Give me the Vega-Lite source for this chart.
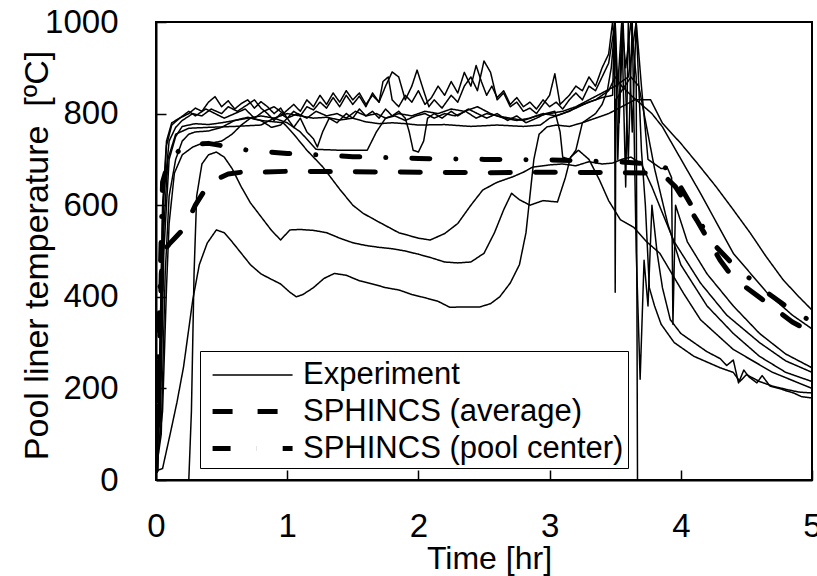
{
  "$schema": "https://vega.github.io/schema/vega-lite/v6.json",
  "autosize": "none",
  "width": 656,
  "height": 458,
  "padding": {"left": 156, "top": 22, "right": 5, "bottom": 96},
  "background": "white",
  "config": {
    "font": "Liberation Sans",
    "view": {"stroke": "black", "strokeWidth": 2},
    "axis": {"grid": false, "domainColor": "black", "domainWidth": 2, "tickColor": "black", "tickWidth": 1.5, "labelColor": "black", "titleColor": "black", "labelFont": "Liberation Sans", "titleFont": "Liberation Sans", "titleFontWeight": "normal"}
  },
  "data": {"values": [
    {"r":"e1","s":"Experiment","x":0,"y":20},{"r":"e1","s":"Experiment","x":0.05,"y":25},{"r":"e1","s":"Experiment","x":0.11,"y":103},{"r":"e1","s":"Experiment","x":0.16,"y":170},{"r":"e1","s":"Experiment","x":0.21,"y":247},{"r":"e1","s":"Experiment","x":0.28,"y":393},{"r":"e1","s":"Experiment","x":0.33,"y":470},{"r":"e1","s":"Experiment","x":0.39,"y":517},{"r":"e1","s":"Experiment","x":0.46,"y":546},{"r":"e1","s":"Experiment","x":0.52,"y":540},{"r":"e1","s":"Experiment","x":0.58,"y":520},{"r":"e1","s":"Experiment","x":0.65,"y":495},{"r":"e1","s":"Experiment","x":0.72,"y":470},{"r":"e1","s":"Experiment","x":0.8,"y":450},{"r":"e1","s":"Experiment","x":0.88,"y":438},{"r":"e1","s":"Experiment","x":0.95,"y":428},{"r":"e1","s":"Experiment","x":1.02,"y":410},{"r":"e1","s":"Experiment","x":1.07,"y":400},{"r":"e1","s":"Experiment","x":1.12,"y":405},{"r":"e1","s":"Experiment","x":1.2,"y":420},{"r":"e1","s":"Experiment","x":1.28,"y":440},{"r":"e1","s":"Experiment","x":1.36,"y":451},{"r":"e1","s":"Experiment","x":1.45,"y":447},{"r":"e1","s":"Experiment","x":1.55,"y":435},{"r":"e1","s":"Experiment","x":1.65,"y":428},{"r":"e1","s":"Experiment","x":1.75,"y":420},{"r":"e1","s":"Experiment","x":1.85,"y":415},{"r":"e1","s":"Experiment","x":1.95,"y":405},{"r":"e1","s":"Experiment","x":2.05,"y":398},{"r":"e1","s":"Experiment","x":2.15,"y":390},{"r":"e1","s":"Experiment","x":2.24,"y":377},{"r":"e1","s":"Experiment","x":2.35,"y":378},{"r":"e1","s":"Experiment","x":2.47,"y":378},{"r":"e1","s":"Experiment","x":2.55,"y":385},{"r":"e1","s":"Experiment","x":2.62,"y":400},{"r":"e1","s":"Experiment","x":2.7,"y":430},{"r":"e1","s":"Experiment","x":2.77,"y":470},{"r":"e1","s":"Experiment","x":2.82,"y":540},{"r":"e1","s":"Experiment","x":2.85,"y":620},{"r":"e1","s":"Experiment","x":2.88,"y":700},{"r":"e1","s":"Experiment","x":2.92,"y":755},{"r":"e1","s":"Experiment","x":2.98,"y":771},{"r":"e1","s":"Experiment","x":3.05,"y":775},{"r":"e1","s":"Experiment","x":3.15,"y":772},{"r":"e1","s":"Experiment","x":3.25,"y":780},{"r":"e1","s":"Experiment","x":3.35,"y":790},{"r":"e1","s":"Experiment","x":3.45,"y":800},{"r":"e1","s":"Experiment","x":3.55,"y":815},{"r":"e1","s":"Experiment","x":3.65,"y":830},{"r":"e1","s":"Experiment","x":3.77,"y":830},{"r":"e1","s":"Experiment","x":3.86,"y":779},{"r":"e1","s":"Experiment","x":4.0,"y":735},{"r":"e1","s":"Experiment","x":4.13,"y":690},{"r":"e1","s":"Experiment","x":4.27,"y":640},{"r":"e1","s":"Experiment","x":4.4,"y":590},{"r":"e1","s":"Experiment","x":4.53,"y":539},{"r":"e1","s":"Experiment","x":4.65,"y":488},{"r":"e1","s":"Experiment","x":4.78,"y":437},{"r":"e1","s":"Experiment","x":4.9,"y":400},{"r":"e1","s":"Experiment","x":5.0,"y":371},

    {"r":"e2","s":"Experiment","x":0,"y":0},{"r":"e2","s":"Experiment","x":0.25,"y":0},{"r":"e2","s":"Experiment","x":0.27,"y":150},{"r":"e2","s":"Experiment","x":0.29,"y":450},{"r":"e2","s":"Experiment","x":0.31,"y":620},{"r":"e2","s":"Experiment","x":0.35,"y":690},{"r":"e2","s":"Experiment","x":0.4,"y":710},{"r":"e2","s":"Experiment","x":0.46,"y":716},{"r":"e2","s":"Experiment","x":0.52,"y":705},{"r":"e2","s":"Experiment","x":0.58,"y":680},{"r":"e2","s":"Experiment","x":0.65,"y":640},{"r":"e2","s":"Experiment","x":0.72,"y":605},{"r":"e2","s":"Experiment","x":0.8,"y":575},{"r":"e2","s":"Experiment","x":0.88,"y":545},{"r":"e2","s":"Experiment","x":0.95,"y":524},{"r":"e2","s":"Experiment","x":1.02,"y":546},{"r":"e2","s":"Experiment","x":1.1,"y":547},{"r":"e2","s":"Experiment","x":1.2,"y":545},{"r":"e2","s":"Experiment","x":1.3,"y":540},{"r":"e2","s":"Experiment","x":1.4,"y":528},{"r":"e2","s":"Experiment","x":1.5,"y":518},{"r":"e2","s":"Experiment","x":1.6,"y":512},{"r":"e2","s":"Experiment","x":1.7,"y":508},{"r":"e2","s":"Experiment","x":1.8,"y":505},{"r":"e2","s":"Experiment","x":1.9,"y":500},{"r":"e2","s":"Experiment","x":2.0,"y":493},{"r":"e2","s":"Experiment","x":2.1,"y":485},{"r":"e2","s":"Experiment","x":2.2,"y":476},{"r":"e2","s":"Experiment","x":2.3,"y":474},{"r":"e2","s":"Experiment","x":2.4,"y":476},{"r":"e2","s":"Experiment","x":2.5,"y":495},{"r":"e2","s":"Experiment","x":2.58,"y":540},{"r":"e2","s":"Experiment","x":2.65,"y":590},{"r":"e2","s":"Experiment","x":2.71,"y":626},{"r":"e2","s":"Experiment","x":2.77,"y":612},{"r":"e2","s":"Experiment","x":2.85,"y":600},{"r":"e2","s":"Experiment","x":2.95,"y":610},{"r":"e2","s":"Experiment","x":3.06,"y":607},{"r":"e2","s":"Experiment","x":3.12,"y":660},{"r":"e2","s":"Experiment","x":3.16,"y":705},{"r":"e2","s":"Experiment","x":3.22,"y":720},{"r":"e2","s":"Experiment","x":3.3,"y":700},{"r":"e2","s":"Experiment","x":3.38,"y":655},{"r":"e2","s":"Experiment","x":3.45,"y":610},{"r":"e2","s":"Experiment","x":3.54,"y":568},{"r":"e2","s":"Experiment","x":3.64,"y":552},{"r":"e2","s":"Experiment","x":3.74,"y":520},{"r":"e2","s":"Experiment","x":3.84,"y":495},{"r":"e2","s":"Experiment","x":4.02,"y":408},{"r":"e2","s":"Experiment","x":4.15,"y":350},{"r":"e2","s":"Experiment","x":4.4,"y":285},{"r":"e2","s":"Experiment","x":4.7,"y":235},{"r":"e2","s":"Experiment","x":5.0,"y":200},

    {"r":"e3","s":"Experiment","x":0,"y":20},{"r":"e3","s":"Experiment","x":0.04,"y":100},{"r":"e3","s":"Experiment","x":0.07,"y":450},{"r":"e3","s":"Experiment","x":0.1,"y":620},{"r":"e3","s":"Experiment","x":0.15,"y":700},{"r":"e3","s":"Experiment","x":0.2,"y":740},{"r":"e3","s":"Experiment","x":0.25,"y":755},{"r":"e3","s":"Experiment","x":0.3,"y":760},{"r":"e3","s":"Experiment","x":0.4,"y":762},{"r":"e3","s":"Experiment","x":0.5,"y":770},{"r":"e3","s":"Experiment","x":0.6,"y":785},{"r":"e3","s":"Experiment","x":0.7,"y":792},{"r":"e3","s":"Experiment","x":0.8,"y":785},{"r":"e3","s":"Experiment","x":0.9,"y":782},{"r":"e3","s":"Experiment","x":0.97,"y":780},{"r":"e3","s":"Experiment","x":1.05,"y":755},{"r":"e3","s":"Experiment","x":1.15,"y":720},{"r":"e3","s":"Experiment","x":1.27,"y":684},{"r":"e3","s":"Experiment","x":1.4,"y":635},{"r":"e3","s":"Experiment","x":1.5,"y":600},{"r":"e3","s":"Experiment","x":1.58,"y":582},{"r":"e3","s":"Experiment","x":1.7,"y":563},{"r":"e3","s":"Experiment","x":1.85,"y":540},{"r":"e3","s":"Experiment","x":2.0,"y":528},{"r":"e3","s":"Experiment","x":2.09,"y":524},{"r":"e3","s":"Experiment","x":2.2,"y":538},{"r":"e3","s":"Experiment","x":2.3,"y":560},{"r":"e3","s":"Experiment","x":2.4,"y":600},{"r":"e3","s":"Experiment","x":2.49,"y":633},{"r":"e3","s":"Experiment","x":2.6,"y":650},{"r":"e3","s":"Experiment","x":2.72,"y":662},{"r":"e3","s":"Experiment","x":2.8,"y":672},{"r":"e3","s":"Experiment","x":2.87,"y":683},{"r":"e3","s":"Experiment","x":3.0,"y":688},{"r":"e3","s":"Experiment","x":3.1,"y":690},{"r":"e3","s":"Experiment","x":3.2,"y":686},{"r":"e3","s":"Experiment","x":3.3,"y":695},{"r":"e3","s":"Experiment","x":3.4,"y":690},{"r":"e3","s":"Experiment","x":3.48,"y":692},{"r":"e3","s":"Experiment","x":3.55,"y":700},{"r":"e3","s":"Experiment","x":3.62,"y":705},{"r":"e3","s":"Experiment","x":3.7,"y":690},{"r":"e3","s":"Experiment","x":3.78,"y":640},{"r":"e3","s":"Experiment","x":3.85,"y":590},{"r":"e3","s":"Experiment","x":3.95,"y":520},{"r":"e3","s":"Experiment","x":4.15,"y":430},{"r":"e3","s":"Experiment","x":4.35,"y":360},{"r":"e3","s":"Experiment","x":4.6,"y":300},{"r":"e3","s":"Experiment","x":4.8,"y":260},{"r":"e3","s":"Experiment","x":5.0,"y":235},

    {"r":"e4","s":"Experiment","x":0,"y":20},{"r":"e4","s":"Experiment","x":0.03,"y":100},{"r":"e4","s":"Experiment","x":0.06,"y":500},{"r":"e4","s":"Experiment","x":0.1,"y":700},{"r":"e4","s":"Experiment","x":0.15,"y":750},{"r":"e4","s":"Experiment","x":0.2,"y":772},{"r":"e4","s":"Experiment","x":0.3,"y":778},{"r":"e4","s":"Experiment","x":0.4,"y":776},{"r":"e4","s":"Experiment","x":0.5,"y":780},{"r":"e4","s":"Experiment","x":0.6,"y":785},{"r":"e4","s":"Experiment","x":0.7,"y":790},{"r":"e4","s":"Experiment","x":0.8,"y":795},{"r":"e4","s":"Experiment","x":0.9,"y":790},{"r":"e4","s":"Experiment","x":1.0,"y":780},{"r":"e4","s":"Experiment","x":1.1,"y":760},{"r":"e4","s":"Experiment","x":1.22,"y":722},{"r":"e4","s":"Experiment","x":1.4,"y":720},{"r":"e4","s":"Experiment","x":1.61,"y":720},{"r":"e4","s":"Experiment","x":1.68,"y":760},{"r":"e4","s":"Experiment","x":1.75,"y":790},{"r":"e4","s":"Experiment","x":1.85,"y":800},{"r":"e4","s":"Experiment","x":1.95,"y":795},{"r":"e4","s":"Experiment","x":2.05,"y":805},{"r":"e4","s":"Experiment","x":2.15,"y":800},{"r":"e4","s":"Experiment","x":2.25,"y":810},{"r":"e4","s":"Experiment","x":2.35,"y":805},{"r":"e4","s":"Experiment","x":2.45,"y":815},{"r":"e4","s":"Experiment","x":2.55,"y":800},{"r":"e4","s":"Experiment","x":2.65,"y":790},{"r":"e4","s":"Experiment","x":2.75,"y":785},{"r":"e4","s":"Experiment","x":2.85,"y":790},{"r":"e4","s":"Experiment","x":2.95,"y":800},{"r":"e4","s":"Experiment","x":3.05,"y":795},{"r":"e4","s":"Experiment","x":3.15,"y":805},{"r":"e4","s":"Experiment","x":3.25,"y":820},{"r":"e4","s":"Experiment","x":3.35,"y":830},{"r":"e4","s":"Experiment","x":3.45,"y":850},{"r":"e4","s":"Experiment","x":3.5,"y":880},{"r":"e4","s":"Experiment","x":3.55,"y":860},{"r":"e4","s":"Experiment","x":3.62,"y":840},{"r":"e4","s":"Experiment","x":3.7,"y":820},{"r":"e4","s":"Experiment","x":3.78,"y":800},{"r":"e4","s":"Experiment","x":3.86,"y":771},{"r":"e4","s":"Experiment","x":4.15,"y":626},{"r":"e4","s":"Experiment","x":4.4,"y":495},{"r":"e4","s":"Experiment","x":4.66,"y":408},{"r":"e4","s":"Experiment","x":4.85,"y":360},{"r":"e4","s":"Experiment","x":5.0,"y":330},

    {"r":"e5","s":"Experiment","x":0,"y":20},{"r":"e5","s":"Experiment","x":0.03,"y":150},{"r":"e5","s":"Experiment","x":0.06,"y":550},{"r":"e5","s":"Experiment","x":0.09,"y":700},{"r":"e5","s":"Experiment","x":0.15,"y":755},{"r":"e5","s":"Experiment","x":0.25,"y":768},{"r":"e5","s":"Experiment","x":0.4,"y":770},{"r":"e5","s":"Experiment","x":0.6,"y":772},{"r":"e5","s":"Experiment","x":0.8,"y":775},{"r":"e5","s":"Experiment","x":0.9,"y":790},{"r":"e5","s":"Experiment","x":1.0,"y":800},{"r":"e5","s":"Experiment","x":1.1,"y":795},{"r":"e5","s":"Experiment","x":1.2,"y":790},{"r":"e5","s":"Experiment","x":1.3,"y":792},{"r":"e5","s":"Experiment","x":1.4,"y":786},{"r":"e5","s":"Experiment","x":1.5,"y":790},{"r":"e5","s":"Experiment","x":1.6,"y":782},{"r":"e5","s":"Experiment","x":1.7,"y":778},{"r":"e5","s":"Experiment","x":1.8,"y":780},{"r":"e5","s":"Experiment","x":1.9,"y":778},{"r":"e5","s":"Experiment","x":2.0,"y":775},{"r":"e5","s":"Experiment","x":2.2,"y":776},{"r":"e5","s":"Experiment","x":2.4,"y":772},{"r":"e5","s":"Experiment","x":2.6,"y":775},{"r":"e5","s":"Experiment","x":2.8,"y":772},{"r":"e5","s":"Experiment","x":2.93,"y":775},{"r":"e5","s":"Experiment","x":3.0,"y":790},{"r":"e5","s":"Experiment","x":3.1,"y":800},{"r":"e5","s":"Experiment","x":3.2,"y":812},{"r":"e5","s":"Experiment","x":3.3,"y":825},{"r":"e5","s":"Experiment","x":3.4,"y":835},{"r":"e5","s":"Experiment","x":3.48,"y":840},{"r":"e5","s":"Experiment","x":3.495,"y":1000},{"r":"e5","s":"Experiment","x":3.5,"y":410},{"r":"e5","s":"Experiment","x":3.505,"y":830},{"r":"e5","s":"Experiment","x":3.55,"y":850},{"r":"e5","s":"Experiment","x":3.62,"y":880},{"r":"e5","s":"Experiment","x":3.68,"y":860},{"r":"e5","s":"Experiment","x":3.72,"y":800},{"r":"e5","s":"Experiment","x":3.76,"y":740},{"r":"e5","s":"Experiment","x":3.8,"y":680},{"r":"e5","s":"Experiment","x":3.9,"y":560},{"r":"e5","s":"Experiment","x":4.0,"y":470},{"r":"e5","s":"Experiment","x":4.2,"y":380},{"r":"e5","s":"Experiment","x":4.4,"y":320},{"r":"e5","s":"Experiment","x":4.6,"y":270},{"r":"e5","s":"Experiment","x":4.8,"y":235},{"r":"e5","s":"Experiment","x":5.0,"y":215},

    {"r":"e6","s":"Experiment","x":0,"y":20},{"r":"e6","s":"Experiment","x":0.02,"y":120},{"r":"e6","s":"Experiment","x":0.05,"y":600},{"r":"e6","s":"Experiment","x":0.08,"y":740},{"r":"e6","s":"Experiment","x":0.12,"y":780},{"r":"e6","s":"Experiment","x":0.18,"y":790},{"r":"e6","s":"Experiment","x":0.25,"y":800},{"r":"e6","s":"Experiment","x":0.3,"y":812},{"r":"e6","s":"Experiment","x":0.35,"y":805},{"r":"e6","s":"Experiment","x":0.4,"y":825},{"r":"e6","s":"Experiment","x":0.45,"y":837},{"r":"e6","s":"Experiment","x":0.5,"y":815},{"r":"e6","s":"Experiment","x":0.55,"y":828},{"r":"e6","s":"Experiment","x":0.6,"y":810},{"r":"e6","s":"Experiment","x":0.65,"y":822},{"r":"e6","s":"Experiment","x":0.7,"y":830},{"r":"e6","s":"Experiment","x":0.75,"y":812},{"r":"e6","s":"Experiment","x":0.8,"y":826},{"r":"e6","s":"Experiment","x":0.85,"y":815},{"r":"e6","s":"Experiment","x":0.9,"y":800},{"r":"e6","s":"Experiment","x":0.95,"y":812},{"r":"e6","s":"Experiment","x":1.0,"y":790},{"r":"e6","s":"Experiment","x":1.05,"y":805},{"r":"e6","s":"Experiment","x":1.1,"y":795},{"r":"e6","s":"Experiment","x":1.15,"y":815},{"r":"e6","s":"Experiment","x":1.2,"y":808},{"r":"e6","s":"Experiment","x":1.25,"y":825},{"r":"e6","s":"Experiment","x":1.3,"y":812},{"r":"e6","s":"Experiment","x":1.35,"y":835},{"r":"e6","s":"Experiment","x":1.4,"y":815},{"r":"e6","s":"Experiment","x":1.45,"y":840},{"r":"e6","s":"Experiment","x":1.5,"y":820},{"r":"e6","s":"Experiment","x":1.55,"y":838},{"r":"e6","s":"Experiment","x":1.6,"y":815},{"r":"e6","s":"Experiment","x":1.65,"y":845},{"r":"e6","s":"Experiment","x":1.7,"y":825},{"r":"e6","s":"Experiment","x":1.75,"y":860},{"r":"e6","s":"Experiment","x":1.8,"y":891},{"r":"e6","s":"Experiment","x":1.85,"y":880},{"r":"e6","s":"Experiment","x":1.9,"y":830},{"r":"e6","s":"Experiment","x":1.95,"y":860},{"r":"e6","s":"Experiment","x":1.99,"y":895},{"r":"e6","s":"Experiment","x":2.04,"y":850},{"r":"e6","s":"Experiment","x":2.08,"y":815},{"r":"e6","s":"Experiment","x":2.12,"y":830},{"r":"e6","s":"Experiment","x":2.18,"y":812},{"r":"e6","s":"Experiment","x":2.25,"y":840},{"r":"e6","s":"Experiment","x":2.3,"y":825},{"r":"e6","s":"Experiment","x":2.35,"y":860},{"r":"e6","s":"Experiment","x":2.4,"y":880},{"r":"e6","s":"Experiment","x":2.45,"y":850},{"r":"e6","s":"Experiment","x":2.5,"y":915},{"r":"e6","s":"Experiment","x":2.55,"y":890},{"r":"e6","s":"Experiment","x":2.6,"y":830},{"r":"e6","s":"Experiment","x":2.65,"y":845},{"r":"e6","s":"Experiment","x":2.7,"y":815},{"r":"e6","s":"Experiment","x":2.75,"y":825},{"r":"e6","s":"Experiment","x":2.8,"y":805},{"r":"e6","s":"Experiment","x":2.85,"y":812},{"r":"e6","s":"Experiment","x":2.9,"y":800},{"r":"e6","s":"Experiment","x":2.95,"y":820},{"r":"e6","s":"Experiment","x":3.0,"y":840},{"r":"e6","s":"Experiment","x":3.04,"y":887},{"r":"e6","s":"Experiment","x":3.08,"y":820},{"r":"e6","s":"Experiment","x":3.15,"y":840},{"r":"e6","s":"Experiment","x":3.2,"y":860},{"r":"e6","s":"Experiment","x":3.25,"y":850},{"r":"e6","s":"Experiment","x":3.3,"y":880},{"r":"e6","s":"Experiment","x":3.35,"y":860},{"r":"e6","s":"Experiment","x":3.4,"y":900},{"r":"e6","s":"Experiment","x":3.45,"y":930},{"r":"e6","s":"Experiment","x":3.48,"y":1000},{"r":"e6","s":"Experiment","x":3.52,"y":860},{"r":"e6","s":"Experiment","x":3.55,"y":1000},{"r":"e6","s":"Experiment","x":3.58,"y":900},{"r":"e6","s":"Experiment","x":3.62,"y":1000},{"r":"e6","s":"Experiment","x":3.66,"y":880},{"r":"e6","s":"Experiment","x":3.67,"y":0},{"r":"e6","s":"Experiment","x":5.0,"y":0},

    {"r":"e7","s":"Experiment","x":0,"y":20},{"r":"e7","s":"Experiment","x":0.03,"y":200},{"r":"e7","s":"Experiment","x":0.06,"y":620},{"r":"e7","s":"Experiment","x":0.1,"y":740},{"r":"e7","s":"Experiment","x":0.15,"y":770},{"r":"e7","s":"Experiment","x":0.2,"y":785},{"r":"e7","s":"Experiment","x":0.28,"y":800},{"r":"e7","s":"Experiment","x":0.35,"y":795},{"r":"e7","s":"Experiment","x":0.42,"y":810},{"r":"e7","s":"Experiment","x":0.5,"y":800},{"r":"e7","s":"Experiment","x":0.55,"y":815},{"r":"e7","s":"Experiment","x":0.62,"y":805},{"r":"e7","s":"Experiment","x":0.7,"y":820},{"r":"e7","s":"Experiment","x":0.75,"y":830},{"r":"e7","s":"Experiment","x":0.8,"y":812},{"r":"e7","s":"Experiment","x":0.85,"y":800},{"r":"e7","s":"Experiment","x":0.9,"y":785},{"r":"e7","s":"Experiment","x":0.95,"y":800},{"r":"e7","s":"Experiment","x":1.0,"y":790},{"r":"e7","s":"Experiment","x":1.05,"y":770},{"r":"e7","s":"Experiment","x":1.1,"y":790},{"r":"e7","s":"Experiment","x":1.15,"y":760},{"r":"e7","s":"Experiment","x":1.2,"y":745},{"r":"e7","s":"Experiment","x":1.23,"y":727},{"r":"e7","s":"Experiment","x":1.27,"y":760},{"r":"e7","s":"Experiment","x":1.32,"y":790},{"r":"e7","s":"Experiment","x":1.38,"y":780},{"r":"e7","s":"Experiment","x":1.45,"y":800},{"r":"e7","s":"Experiment","x":1.5,"y":790},{"r":"e7","s":"Experiment","x":1.55,"y":810},{"r":"e7","s":"Experiment","x":1.6,"y":795},{"r":"e7","s":"Experiment","x":1.65,"y":805},{"r":"e7","s":"Experiment","x":1.7,"y":790},{"r":"e7","s":"Experiment","x":1.75,"y":810},{"r":"e7","s":"Experiment","x":1.8,"y":795},{"r":"e7","s":"Experiment","x":1.85,"y":805},{"r":"e7","s":"Experiment","x":1.9,"y":790},{"r":"e7","s":"Experiment","x":1.93,"y":760},{"r":"e7","s":"Experiment","x":1.96,"y":720},{"r":"e7","s":"Experiment","x":2.0,"y":716},{"r":"e7","s":"Experiment","x":2.04,"y":740},{"r":"e7","s":"Experiment","x":2.07,"y":790},{"r":"e7","s":"Experiment","x":2.12,"y":800},{"r":"e7","s":"Experiment","x":2.18,"y":790},{"r":"e7","s":"Experiment","x":2.25,"y":805},{"r":"e7","s":"Experiment","x":2.3,"y":795},{"r":"e7","s":"Experiment","x":2.38,"y":810},{"r":"e7","s":"Experiment","x":2.45,"y":800},{"r":"e7","s":"Experiment","x":2.52,"y":790},{"r":"e7","s":"Experiment","x":2.6,"y":800},{"r":"e7","s":"Experiment","x":2.68,"y":785},{"r":"e7","s":"Experiment","x":2.75,"y":795},{"r":"e7","s":"Experiment","x":2.82,"y":780},{"r":"e7","s":"Experiment","x":2.9,"y":790},{"r":"e7","s":"Experiment","x":2.97,"y":800},{"r":"e7","s":"Experiment","x":3.04,"y":805},{"r":"e7","s":"Experiment","x":3.08,"y":760},{"r":"e7","s":"Experiment","x":3.1,"y":705},{"r":"e7","s":"Experiment","x":3.15,"y":700},{"r":"e7","s":"Experiment","x":3.2,"y":720},{"r":"e7","s":"Experiment","x":3.25,"y":780},{"r":"e7","s":"Experiment","x":3.3,"y":790},{"r":"e7","s":"Experiment","x":3.35,"y":800},{"r":"e7","s":"Experiment","x":3.4,"y":820},{"r":"e7","s":"Experiment","x":3.44,"y":850},{"r":"e7","s":"Experiment","x":3.47,"y":900},{"r":"e7","s":"Experiment","x":3.5,"y":1000},{"r":"e7","s":"Experiment","x":3.53,"y":780},{"r":"e7","s":"Experiment","x":3.56,"y":1000},{"r":"e7","s":"Experiment","x":3.6,"y":700},{"r":"e7","s":"Experiment","x":3.63,"y":1000},{"r":"e7","s":"Experiment","x":3.66,"y":500},{"r":"e7","s":"Experiment","x":3.69,"y":220},{"r":"e7","s":"Experiment","x":3.72,"y":480},{"r":"e7","s":"Experiment","x":3.75,"y":380},{"r":"e7","s":"Experiment","x":3.78,"y":600},{"r":"e7","s":"Experiment","x":3.82,"y":495},{"r":"e7","s":"Experiment","x":3.86,"y":420},{"r":"e7","s":"Experiment","x":3.92,"y":350},{"r":"e7","s":"Experiment","x":4.0,"y":320},{"r":"e7","s":"Experiment","x":4.1,"y":300},{"r":"e7","s":"Experiment","x":4.2,"y":280},{"r":"e7","s":"Experiment","x":4.3,"y":265},{"r":"e7","s":"Experiment","x":4.35,"y":250},{"r":"e7","s":"Experiment","x":4.4,"y":262},{"r":"e7","s":"Experiment","x":4.44,"y":212},{"r":"e7","s":"Experiment","x":4.48,"y":240},{"r":"e7","s":"Experiment","x":4.52,"y":225},{"r":"e7","s":"Experiment","x":4.58,"y":212},{"r":"e7","s":"Experiment","x":4.62,"y":228},{"r":"e7","s":"Experiment","x":4.68,"y":205},{"r":"e7","s":"Experiment","x":4.75,"y":200},{"r":"e7","s":"Experiment","x":4.8,"y":195},{"r":"e7","s":"Experiment","x":4.86,"y":190},{"r":"e7","s":"Experiment","x":4.92,"y":182},{"r":"e7","s":"Experiment","x":5.0,"y":179},

    {"r":"e8","s":"Experiment","x":0,"y":20},{"r":"e8","s":"Experiment","x":0.02,"y":150},{"r":"e8","s":"Experiment","x":0.05,"y":580},{"r":"e8","s":"Experiment","x":0.08,"y":730},{"r":"e8","s":"Experiment","x":0.12,"y":775},{"r":"e8","s":"Experiment","x":0.18,"y":790},{"r":"e8","s":"Experiment","x":0.25,"y":805},{"r":"e8","s":"Experiment","x":0.3,"y":795},{"r":"e8","s":"Experiment","x":0.38,"y":810},{"r":"e8","s":"Experiment","x":0.45,"y":800},{"r":"e8","s":"Experiment","x":0.52,"y":790},{"r":"e8","s":"Experiment","x":0.6,"y":800},{"r":"e8","s":"Experiment","x":0.68,"y":810},{"r":"e8","s":"Experiment","x":0.75,"y":790},{"r":"e8","s":"Experiment","x":0.82,"y":805},{"r":"e8","s":"Experiment","x":0.9,"y":815},{"r":"e8","s":"Experiment","x":0.97,"y":800},{"r":"e8","s":"Experiment","x":1.05,"y":820},{"r":"e8","s":"Experiment","x":1.1,"y":805},{"r":"e8","s":"Experiment","x":1.15,"y":830},{"r":"e8","s":"Experiment","x":1.2,"y":815},{"r":"e8","s":"Experiment","x":1.25,"y":840},{"r":"e8","s":"Experiment","x":1.3,"y":820},{"r":"e8","s":"Experiment","x":1.35,"y":845},{"r":"e8","s":"Experiment","x":1.4,"y":825},{"r":"e8","s":"Experiment","x":1.45,"y":850},{"r":"e8","s":"Experiment","x":1.5,"y":830},{"r":"e8","s":"Experiment","x":1.55,"y":845},{"r":"e8","s":"Experiment","x":1.6,"y":820},{"r":"e8","s":"Experiment","x":1.65,"y":840},{"r":"e8","s":"Experiment","x":1.7,"y":825},{"r":"e8","s":"Experiment","x":1.73,"y":870},{"r":"e8","s":"Experiment","x":1.77,"y":880},{"r":"e8","s":"Experiment","x":1.8,"y":830},{"r":"e8","s":"Experiment","x":1.85,"y":815},{"r":"e8","s":"Experiment","x":1.9,"y":840},{"r":"e8","s":"Experiment","x":1.95,"y":825},{"r":"e8","s":"Experiment","x":2.0,"y":850},{"r":"e8","s":"Experiment","x":2.05,"y":820},{"r":"e8","s":"Experiment","x":2.1,"y":835},{"r":"e8","s":"Experiment","x":2.15,"y":860},{"r":"e8","s":"Experiment","x":2.2,"y":840},{"r":"e8","s":"Experiment","x":2.25,"y":870},{"r":"e8","s":"Experiment","x":2.3,"y":845},{"r":"e8","s":"Experiment","x":2.35,"y":890},{"r":"e8","s":"Experiment","x":2.4,"y":860},{"r":"e8","s":"Experiment","x":2.44,"y":905},{"r":"e8","s":"Experiment","x":2.48,"y":870},{"r":"e8","s":"Experiment","x":2.52,"y":840},{"r":"e8","s":"Experiment","x":2.56,"y":860},{"r":"e8","s":"Experiment","x":2.6,"y":835},{"r":"e8","s":"Experiment","x":2.65,"y":850},{"r":"e8","s":"Experiment","x":2.7,"y":820},{"r":"e8","s":"Experiment","x":2.75,"y":835},{"r":"e8","s":"Experiment","x":2.8,"y":815},{"r":"e8","s":"Experiment","x":2.85,"y":825},{"r":"e8","s":"Experiment","x":2.9,"y":810},{"r":"e8","s":"Experiment","x":2.95,"y":830},{"r":"e8","s":"Experiment","x":3.0,"y":815},{"r":"e8","s":"Experiment","x":3.05,"y":825},{"r":"e8","s":"Experiment","x":3.1,"y":810},{"r":"e8","s":"Experiment","x":3.15,"y":830},{"r":"e8","s":"Experiment","x":3.2,"y":845},{"r":"e8","s":"Experiment","x":3.25,"y":830},{"r":"e8","s":"Experiment","x":3.3,"y":860},{"r":"e8","s":"Experiment","x":3.35,"y":850},{"r":"e8","s":"Experiment","x":3.4,"y":880},{"r":"e8","s":"Experiment","x":3.45,"y":910},{"r":"e8","s":"Experiment","x":3.5,"y":1000},{"r":"e8","s":"Experiment","x":3.52,"y":700},{"r":"e8","s":"Experiment","x":3.55,"y":1000},{"r":"e8","s":"Experiment","x":3.58,"y":640},{"r":"e8","s":"Experiment","x":3.6,"y":1000},{"r":"e8","s":"Experiment","x":3.63,"y":760},{"r":"e8","s":"Experiment","x":3.66,"y":1000},{"r":"e8","s":"Experiment","x":3.7,"y":720},{"r":"e8","s":"Experiment","x":3.73,"y":600},{"r":"e8","s":"Experiment","x":3.76,"y":420},{"r":"e8","s":"Experiment","x":3.8,"y":380},{"r":"e8","s":"Experiment","x":3.85,"y":340},{"r":"e8","s":"Experiment","x":3.95,"y":300},{"r":"e8","s":"Experiment","x":4.1,"y":270},{"r":"e8","s":"Experiment","x":4.3,"y":245},{"r":"e8","s":"Experiment","x":4.4,"y":235},{"r":"e8","s":"Experiment","x":4.45,"y":215},{"r":"e8","s":"Experiment","x":4.5,"y":230},{"r":"e8","s":"Experiment","x":4.6,"y":215},{"r":"e8","s":"Experiment","x":4.7,"y":205},{"r":"e8","s":"Experiment","x":4.8,"y":198},{"r":"e8","s":"Experiment","x":4.9,"y":192},{"r":"e8","s":"Experiment","x":5.0,"y":190},

    {"r":"e9","s":"Experiment","x":0,"y":20},{"r":"e9","s":"Experiment","x":0.05,"y":150},{"r":"e9","s":"Experiment","x":0.08,"y":420},{"r":"e9","s":"Experiment","x":0.1,"y":560},{"r":"e9","s":"Experiment","x":0.14,"y":670},{"r":"e9","s":"Experiment","x":0.2,"y":710},{"r":"e9","s":"Experiment","x":0.28,"y":727},{"r":"e9","s":"Experiment","x":0.35,"y":735},{"r":"e9","s":"Experiment","x":0.43,"y":736},{"r":"e9","s":"Experiment","x":0.5,"y":740},{"r":"e9","s":"Experiment","x":0.58,"y":755},{"r":"e9","s":"Experiment","x":0.65,"y":775},{"r":"e9","s":"Experiment","x":0.72,"y":790},{"r":"e9","s":"Experiment","x":0.8,"y":785},{"r":"e9","s":"Experiment","x":0.88,"y":770},{"r":"e9","s":"Experiment","x":0.95,"y":775},{"r":"e9","s":"Experiment","x":1.0,"y":790},{"r":"e9","s":"Experiment","x":1.08,"y":800},{"r":"e9","s":"Experiment","x":1.15,"y":790},{"r":"e9","s":"Experiment","x":1.22,"y":805},{"r":"e9","s":"Experiment","x":1.3,"y":795},{"r":"e9","s":"Experiment","x":1.38,"y":800},{"r":"e9","s":"Experiment","x":1.45,"y":790},{"r":"e9","s":"Experiment","x":1.52,"y":805},{"r":"e9","s":"Experiment","x":1.6,"y":795},{"r":"e9","s":"Experiment","x":1.68,"y":800},{"r":"e9","s":"Experiment","x":1.75,"y":790},{"r":"e9","s":"Experiment","x":1.82,"y":795},{"r":"e9","s":"Experiment","x":1.9,"y":785},{"r":"e9","s":"Experiment","x":1.98,"y":795},{"r":"e9","s":"Experiment","x":2.05,"y":800},{"r":"e9","s":"Experiment","x":2.12,"y":790},{"r":"e9","s":"Experiment","x":2.2,"y":800},{"r":"e9","s":"Experiment","x":2.28,"y":795},{"r":"e9","s":"Experiment","x":2.36,"y":805},{"r":"e9","s":"Experiment","x":2.44,"y":790},{"r":"e9","s":"Experiment","x":2.52,"y":800},{"r":"e9","s":"Experiment","x":2.6,"y":795},{"r":"e9","s":"Experiment","x":2.7,"y":790},{"r":"e9","s":"Experiment","x":2.8,"y":785},{"r":"e9","s":"Experiment","x":2.9,"y":795},{"r":"e9","s":"Experiment","x":3.0,"y":800},{"r":"e9","s":"Experiment","x":3.1,"y":805},{"r":"e9","s":"Experiment","x":3.2,"y":815},{"r":"e9","s":"Experiment","x":3.3,"y":830},{"r":"e9","s":"Experiment","x":3.4,"y":845},{"r":"e9","s":"Experiment","x":3.5,"y":860},{"r":"e9","s":"Experiment","x":3.6,"y":880},{"r":"e9","s":"Experiment","x":3.66,"y":1000},{"r":"e9","s":"Experiment","x":3.7,"y":860},{"r":"e9","s":"Experiment","x":3.75,"y":700},{"r":"e9","s":"Experiment","x":3.8,"y":690},{"r":"e9","s":"Experiment","x":3.85,"y":680},{"r":"e9","s":"Experiment","x":3.9,"y":680},{"r":"e9","s":"Experiment","x":3.93,"y":660},{"r":"e9","s":"Experiment","x":3.94,"y":340},{"r":"e9","s":"Experiment","x":3.96,"y":600},{"r":"e9","s":"Experiment","x":4.05,"y":520},{"r":"e9","s":"Experiment","x":4.2,"y":450},{"r":"e9","s":"Experiment","x":4.4,"y":380},{"r":"e9","s":"Experiment","x":4.6,"y":320},{"r":"e9","s":"Experiment","x":4.8,"y":275},{"r":"e9","s":"Experiment","x":5.0,"y":245},

    {"r":"s1","s":"SPHINCS (average)","x":0,"y":20},{"r":"s1","s":"SPHINCS (average)","x":0.02,"y":200},{"r":"s1","s":"SPHINCS (average)","x":0.04,"y":450},{"r":"s1","s":"SPHINCS (average)","x":0.06,"y":500},{"r":"s1","s":"SPHINCS (average)","x":0.1,"y":515},{"r":"s1","s":"SPHINCS (average)","x":0.15,"y":530},{"r":"s1","s":"SPHINCS (average)","x":0.2,"y":545},{"r":"s1","s":"SPHINCS (average)","x":0.25,"y":570},{"r":"s1","s":"SPHINCS (average)","x":0.3,"y":600},{"r":"s1","s":"SPHINCS (average)","x":0.37,"y":632},{"r":"s1","s":"SPHINCS (average)","x":0.45,"y":655},{"r":"s1","s":"SPHINCS (average)","x":0.55,"y":668},{"r":"s1","s":"SPHINCS (average)","x":0.65,"y":672},{"r":"s1","s":"SPHINCS (average)","x":0.8,"y":672},{"r":"s1","s":"SPHINCS (average)","x":1.0,"y":674},{"r":"s1","s":"SPHINCS (average)","x":1.5,"y":673},{"r":"s1","s":"SPHINCS (average)","x":2.0,"y":672},{"r":"s1","s":"SPHINCS (average)","x":2.5,"y":671},{"r":"s1","s":"SPHINCS (average)","x":3.0,"y":672},{"r":"s1","s":"SPHINCS (average)","x":3.5,"y":671},{"r":"s1","s":"SPHINCS (average)","x":3.8,"y":670},{"r":"s1","s":"SPHINCS (average)","x":3.86,"y":668},{"r":"s1","s":"SPHINCS (average)","x":3.96,"y":640},{"r":"s1","s":"SPHINCS (average)","x":4.12,"y":568},{"r":"s1","s":"SPHINCS (average)","x":4.3,"y":480},{"r":"s1","s":"SPHINCS (average)","x":4.4,"y":441},{"r":"s1","s":"SPHINCS (average)","x":4.66,"y":386},{"r":"s1","s":"SPHINCS (average)","x":4.85,"y":345},{"r":"s1","s":"SPHINCS (average)","x":5.0,"y":322},

    {"r":"s2","s":"SPHINCS (pool center)","x":0,"y":20},{"r":"s2","s":"SPHINCS (pool center)","x":0.02,"y":300},{"r":"s2","s":"SPHINCS (pool center)","x":0.05,"y":650},{"r":"s2","s":"SPHINCS (pool center)","x":0.1,"y":700},{"r":"s2","s":"SPHINCS (pool center)","x":0.2,"y":725},{"r":"s2","s":"SPHINCS (pool center)","x":0.3,"y":733},{"r":"s2","s":"SPHINCS (pool center)","x":0.4,"y":735},{"r":"s2","s":"SPHINCS (pool center)","x":0.5,"y":730},{"r":"s2","s":"SPHINCS (pool center)","x":0.7,"y":720},{"r":"s2","s":"SPHINCS (pool center)","x":1.0,"y":713},{"r":"s2","s":"SPHINCS (pool center)","x":1.5,"y":706},{"r":"s2","s":"SPHINCS (pool center)","x":2.0,"y":702},{"r":"s2","s":"SPHINCS (pool center)","x":2.5,"y":700},{"r":"s2","s":"SPHINCS (pool center)","x":3.0,"y":699},{"r":"s2","s":"SPHINCS (pool center)","x":3.5,"y":695},{"r":"s2","s":"SPHINCS (pool center)","x":3.8,"y":690},{"r":"s2","s":"SPHINCS (pool center)","x":3.9,"y":680},{"r":"s2","s":"SPHINCS (pool center)","x":3.96,"y":659},{"r":"s2","s":"SPHINCS (pool center)","x":4.1,"y":590},{"r":"s2","s":"SPHINCS (pool center)","x":4.22,"y":524},{"r":"s2","s":"SPHINCS (pool center)","x":4.4,"y":470},{"r":"s2","s":"SPHINCS (pool center)","x":4.63,"y":415},{"r":"s2","s":"SPHINCS (pool center)","x":4.8,"y":380},{"r":"s2","s":"SPHINCS (pool center)","x":5.0,"y":345}
  ]},
  "mark": {"type": "line", "stroke": "black", "clip": true, "strokeCap": "round", "strokeJoin": "round"},
  "encoding": {
    "x": {"field": "x", "type": "quantitative", "scale": {"domain": [0, 5], "nice": false},
      "axis": {"values": [0, 1, 2, 3, 4, 5], "format": "d", "labelFontSize": 33, "labelPadding": 40, "tickSize": -10, "labelFlush": false, "labelOverlap": false,
        "title": "Time [hr]", "titleFontSize": 32, "titleX": 333, "titleY": 88, "titleBaseline": "alphabetic", "titleAlign": "center"}},
    "y": {"field": "y", "type": "quantitative", "scale": {"domain": [0, 1000], "nice": false},
      "axis": {"values": [0, 200, 400, 600, 800, 1000], "format": "d", "labelFontSize": 33, "labelPadding": 48, "tickSize": -10, "labelFlush": false, "labelOverlap": false,
        "title": "Pool liner temperature \u00a0[ºC]", "titleFontSize": 34, "titleAngle": -90, "titleX": -109, "titleY": 233, "titleBaseline": "alphabetic", "titleAlign": "center"}},
    "detail": {"field": "r", "type": "nominal"},
    "strokeDash": {"field": "s", "type": "nominal",
      "scale": {"domain": ["Experiment", "SPHINCS (average)", "SPHINCS (pool center)"], "range": [[1, 0], [20, 25], [18, 26, 0.1, 26]]},
      "legend": {"title": null, "orient": "none", "legendX": 44, "legendY": 329, "direction": "vertical", "symbolType": "M-0.68,0H3.53", "symbolSize": 1444, "symbolStrokeColor": "black", "labelFontSize": 31, "labelColor": "black", "labelFont": "Liberation Sans", "labelOffset": 56, "labelLimit": 600, "rowPadding": 0, "padding": 4, "fillColor": "white", "strokeColor": "black"}},
    "strokeWidth": {"field": "s", "type": "nominal",
      "scale": {"type": "ordinal", "domain": ["Experiment", "SPHINCS (average)", "SPHINCS (pool center)"], "range": [1.5, 5, 5]}}
  }
}
